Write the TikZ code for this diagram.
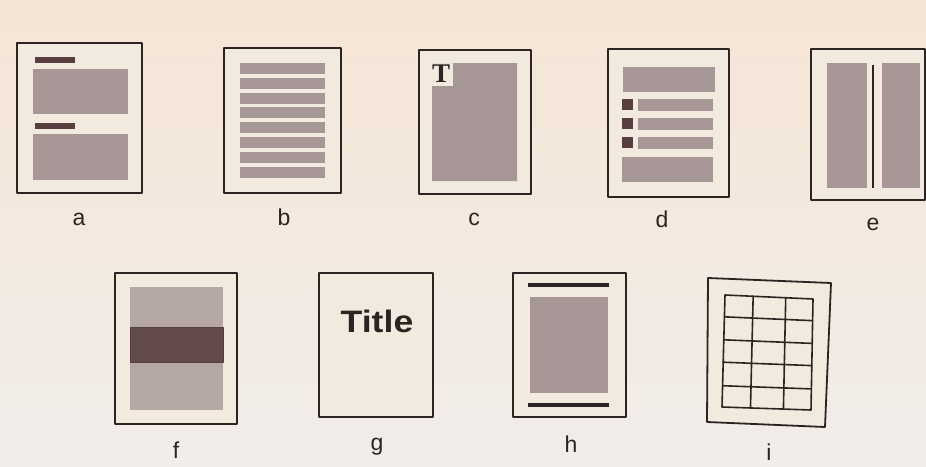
\documentclass[tikz,border=0pt]{standalone}
\usepackage{fontspec}
\usetikzlibrary{calc}
\setmainfont{Liberation Sans}
\newfontfamily\serifT{Liberation Serif}
\definecolor{paper}{RGB}{243,234,223}
\definecolor{paperTop}{RGB}{245,229,213}
\definecolor{paperBot}{RGB}{241,237,233}
\definecolor{ink}{RGB}{45,35,35}
\definecolor{grain}{RGB}{166,150,149}
\definecolor{darkbar}{RGB}{88,62,62}
\tikzset{
  page/.style={draw=ink, line width=1.8pt, fill=paper},
  block/.style={fill=grain},
  bar/.style={fill=darkbar},
  gridline/.style={draw=ink, line width=1.6pt},
  lbl/.style={font=\fontsize{23}{23}\selectfont, text=ink, inner sep=0pt, anchor=base}
}
\begin{document}
\begin{tikzpicture}[x=1pt,y=-1pt, line join=round, line cap=round]
	\useasboundingbox (0,0) rectangle (926,466);
	\shade[top color=paperTop, bottom color=paperBot] (0,0) rectangle (926,466);
	% a: headings and blocks
	\draw[page] (17,43) rectangle (142,193);
	\fill[bar] (35,57) rectangle (75,63);
	\fill[block] (33,69) rectangle (128,114);
	\fill[bar] (35,123) rectangle (75,129);
	\fill[block] (33,134) rectangle (128,180);
	\node[lbl] (la) at (79,225) {a};
	% b: stripes
	\draw[page] (224,48) rectangle (341,193);
	\foreach \k in {0,...,7}
		\fill[block] (240,63+14.8*\k) rectangle (325,74+14.8*\k);
	\node[lbl] (lb) at (284,225) {b};
	% c: initial
	\draw[page] (419,50) rectangle (531,194);
	\fill[block] (432,63) -- (517,63) -- (517,181) -- (432,181) -- (432,86) -- (453,86) -- (453,63) -- cycle;
	\node[font=\serifT\bfseries\fontsize{27}{27}\selectfont, text=ink, inner sep=0pt] (tc) at (441,74) {T};
	\node[lbl] (lc) at (474,225) {c};
	% d: bullets
	\draw[page] (608,49) rectangle (729,197);
	\fill[block] (623,67) rectangle (715,92);
	\foreach \y in {99,118,137} {
		\fill[bar] (622,\y) rectangle (633,\y+11);
		\fill[block] (638,\y) rectangle (713,\y+12);
	}
	\fill[block] (622,157) rectangle (713,182);
	\node[lbl] (ld) at (662,227) {d};
	% e: two columns
	\draw[page] (811,49) rectangle (925,200);
	\fill[block] (827,63) rectangle (867,188);
	\draw[ink, line width=1.6pt, line cap=butt] (873,65) -- (873,188);
	\fill[block] (882,63) rectangle (920,188);
	\node[lbl] (le) at (873,230) {e};
	% f: band
	\draw[page] (115,273) rectangle (237,424);
	\fill[grain!80!paper] (130,287) rectangle (223,410);
	\fill[darkbar!85!grain] (130,327) rectangle (223,362);
	\draw[darkbar, line width=0.8pt] (130,327) rectangle (223,362);
	\node[lbl] (lf) at (176,458) {f};
	% g: title page
	\draw[page] (319,273) rectangle (433,417);
	\node[font=\bfseries\fontsize{31}{31}\selectfont, text=ink, inner sep=0pt, xscale=1.15] (title) at (377,321) {Title};
	\node[lbl] (lg) at (377,450) {g};
	% h: rules
	\draw[page] (513,273) rectangle (626,417);
	\fill[ink] (528,283) rectangle (609,287);
	\fill[block] (530,297) rectangle (608,393);
	\fill[ink] (528,403) rectangle (609,407);
	\node[lbl] (lh) at (571,452) {h};
	% i: grid (page a little out of square)
	\coordinate (p1) at (708,278);
	\coordinate (p2) at (831,283);
	\coordinate (p3) at (825,427);
	\coordinate (p4) at (707,422);
	\draw[page] (p1) -- (p2) -- (p3) -- (p4) -- cycle;
	\coordinate (g1) at (725,295);
	\coordinate (g2) at (813,299);
	\coordinate (g3) at (811,410);
	\coordinate (g4) at (722,407);
	\draw[gridline] (g1) -- (g2) -- (g3) -- (g4) -- cycle;
	\foreach \t in {0.32,0.69}
		\draw[gridline] ($(g1)!\t!(g2)$) -- ($(g4)!\t!(g3)$);
	\foreach \t in {0.195,0.40,0.60,0.81}
		\draw[gridline] ($(g1)!\t!(g4)$) -- ($(g2)!\t!(g3)$);
	\node[lbl] (li) at (769,460) {i};
\end{tikzpicture}
\end{document}
